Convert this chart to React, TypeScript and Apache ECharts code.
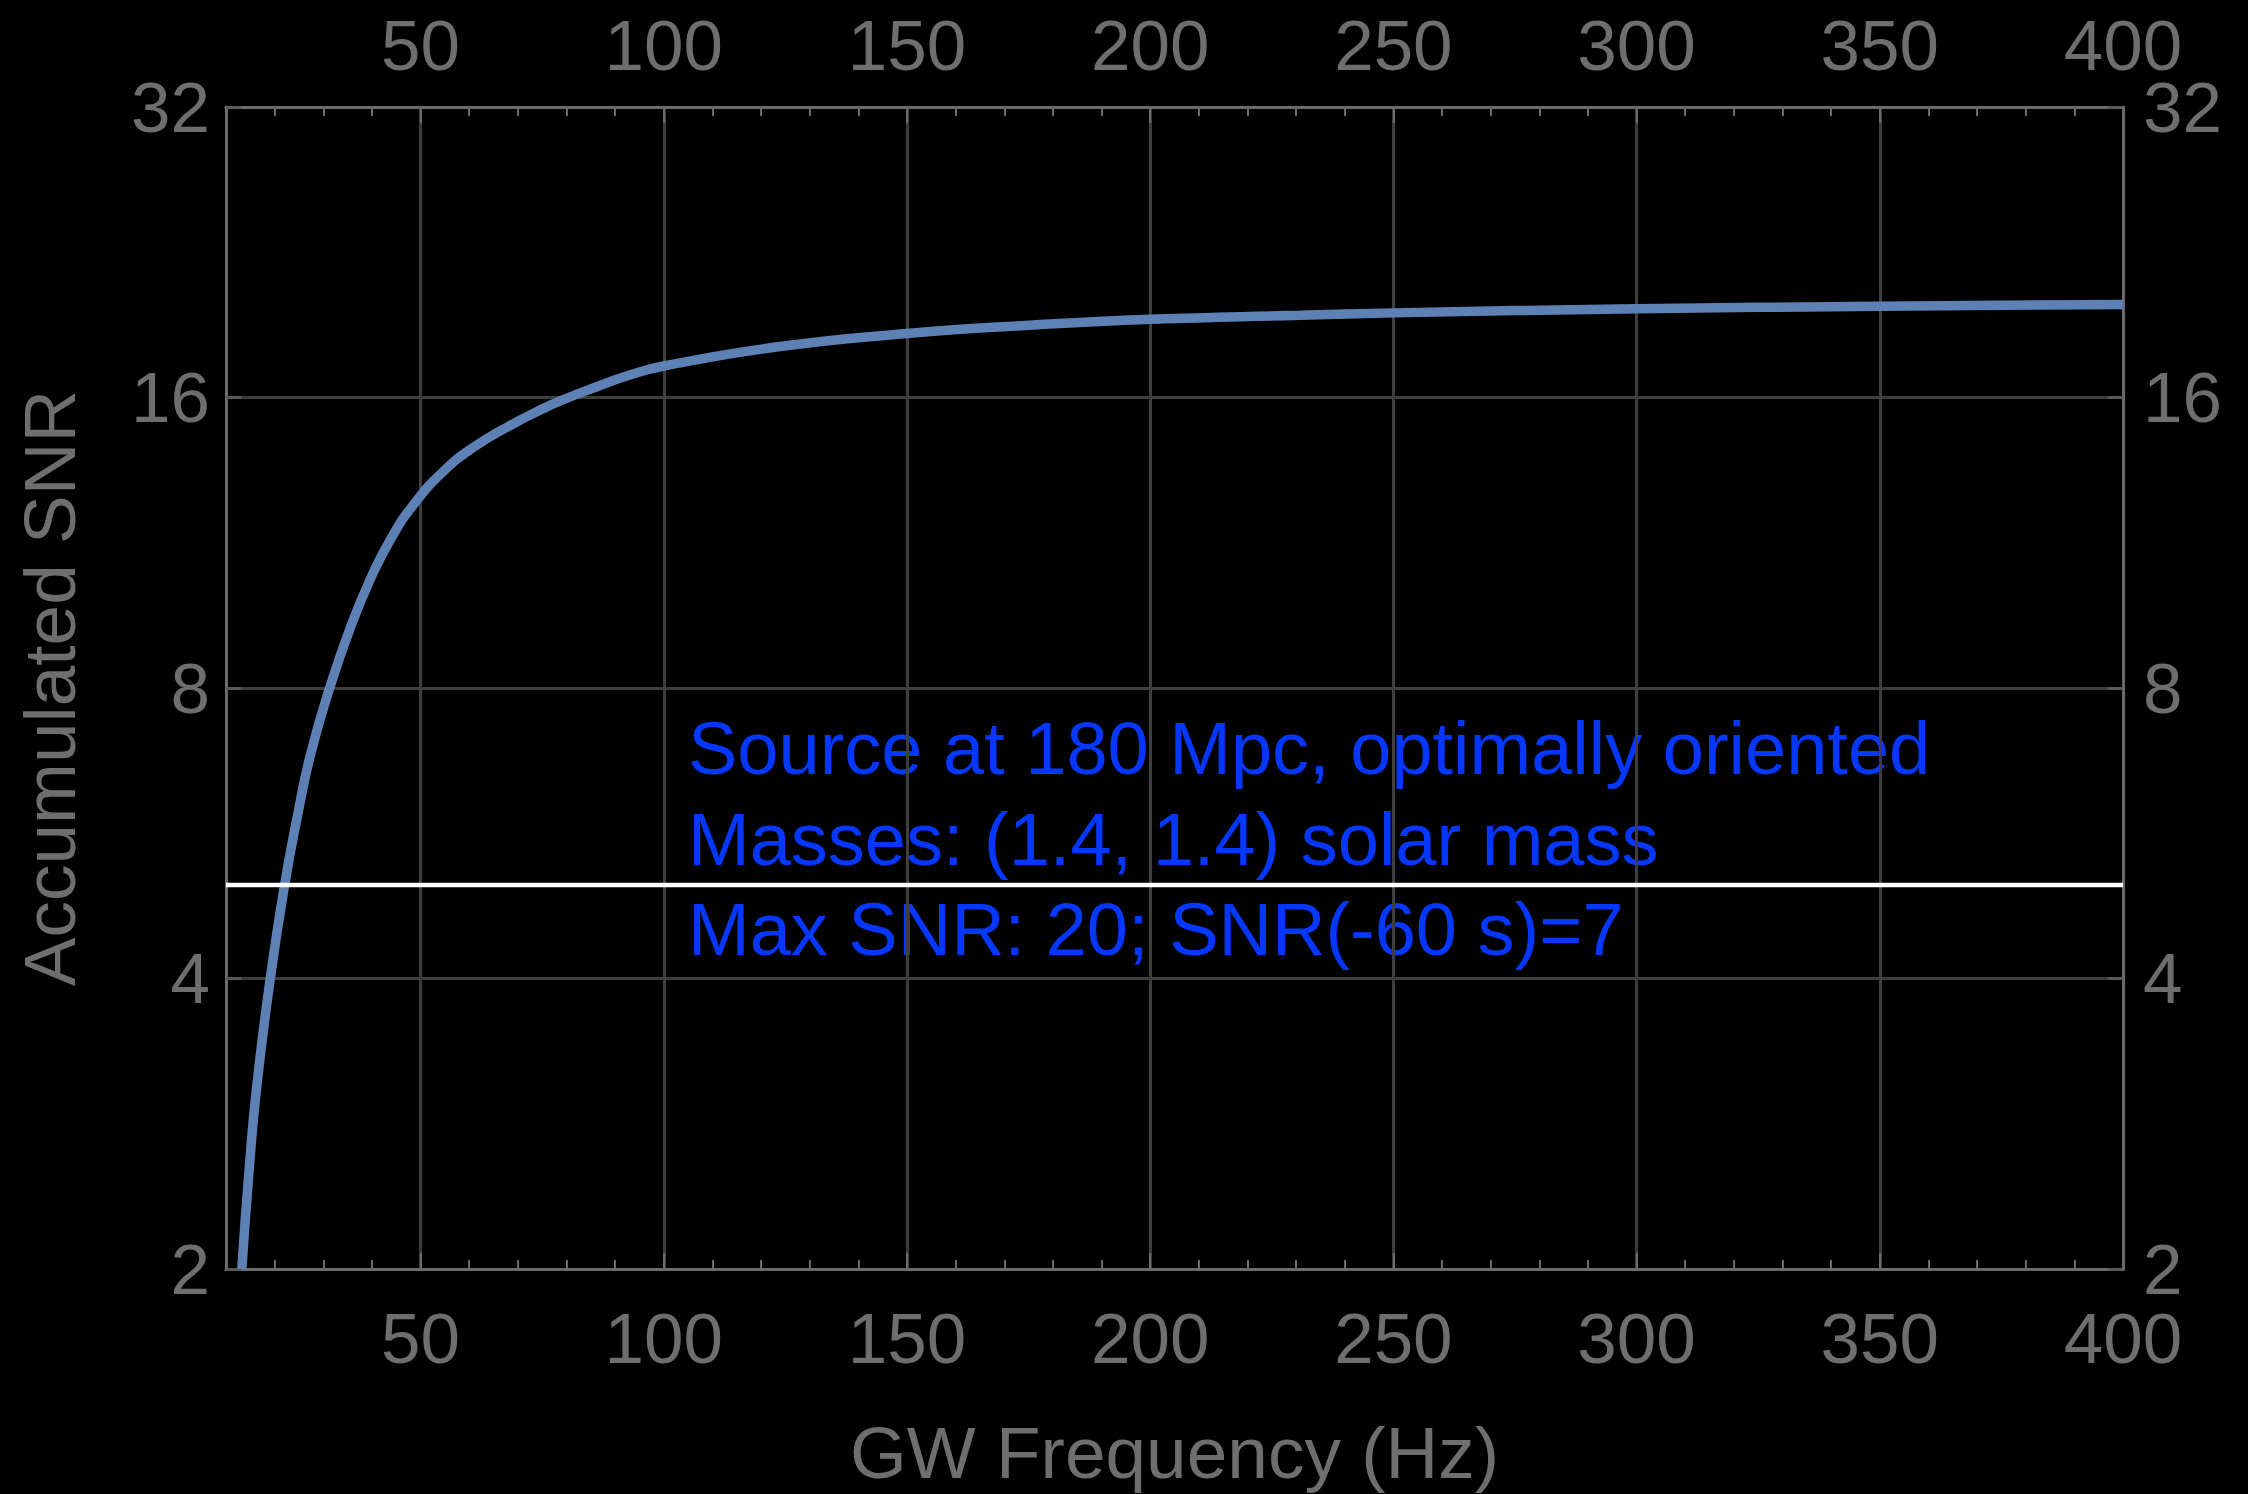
import React, { useEffect, useRef } from "react";
import * as echarts from "echarts";

// Curve: GW frequency (Hz) vs accumulated SNR
const FREQ = [13.25, 14.8, 16.35, 19.1, 22.05, 24.7, 27.3, 31.3, 35.6, 39.7, 43.8, 48.6, 54.8, 61.0, 67.9, 75.4, 79.5, 85.0, 93.3, 100, 123.5, 150, 176, 200, 230.7, 250, 300, 350, 400];
const SNR = [2.0, 2.55, 3.1, 4.0, 5.0, 5.9, 6.8, 8.0, 9.25, 10.38, 11.4, 12.4, 13.43, 14.22, 14.92, 15.6, 15.93, 16.33, 16.9, 17.25, 18.06, 18.64, 19.02, 19.28, 19.47, 19.58, 19.77, 19.89, 19.98];

// Threshold line
const THRESHOLD = 5;
const X_RANGE = [10, 400];
const Y_RANGE = [2, 32];

// Tick labels
const X_TICKS = [50, 100, 150, 200, 250, 300, 350, 400];
const Y_TICKS = [2, 4, 8, 16, 32];

const X_TITLE = "GW Frequency (Hz)";
const Y_TITLE = "Accumulated SNR";
const NOTE_LINES = [
  "Source at 180 Mpc, optimally oriented",
  "Masses: (1.4, 1.4) solar mass",
  "Max SNR: 20; SNR(-60 s)=7",
];

const FONT = "'Liberation Sans', Arial, Helvetica, sans-serif";
const AXIS_COLOR = "#6b6b6b";
const GRID_COLOR = "#3e3e3e";
const LABEL_COLOR = "#6e6e6e";

export default function App() {
  const ref = useRef<HTMLDivElement>(null);

  useEffect(() => {
    if (!ref.current) return;
    const chart = echarts.init(ref.current, null, { renderer: "svg" });

    const label = {
      color: LABEL_COLOR,
      fontSize: 71,
      fontFamily: FONT,
      lineHeight: 58,
    };

    const minorX = (position: "bottom" | "top", withName: boolean) => ({
      type: "value",
      position,
      min: X_RANGE[0],
      max: X_RANGE[1],
      interval: 10,
      axisLine: { show: true, onZero: false, lineStyle: { color: AXIS_COLOR, width: 3 } },
      axisTick: { show: true, inside: true, length: 9, lineStyle: { color: AXIS_COLOR, width: 2 } },
      axisLabel: { show: false },
      splitLine: { show: false },
      ...(withName
        ? {
            name: X_TITLE,
            nameLocation: "middle",
            nameGap: 147,
            nameTextStyle: { color: LABEL_COLOR, fontSize: 73, fontFamily: FONT, lineHeight: 73 },
          }
        : {}),
    });

    const majorX = (position: "bottom" | "top", grid: boolean) => ({
      type: "value",
      position,
      min: X_RANGE[0],
      max: X_RANGE[1],
      axisLine: { show: false, onZero: false },
      axisTick: {
        show: true,
        inside: true,
        length: 16,
        customValues: X_TICKS,
        lineStyle: { color: AXIS_COLOR, width: 2 },
      },
      axisLabel: { show: true, customValues: X_TICKS, margin: position === "bottom" ? 40 : 33, ...label },
      splitLine: { show: grid, lineStyle: { color: GRID_COLOR, width: 3 } },
    });

    const yAx = (position: "left" | "right", grid: boolean, withName: boolean) => ({
      type: "log",
      logBase: 2,
      position,
      min: Y_RANGE[0],
      max: Y_RANGE[1],
      splitNumber: 4,
      axisLine: { show: true, onZero: false, lineStyle: { color: AXIS_COLOR, width: 3 } },
      axisTick: { show: true, inside: true, length: 15, lineStyle: { color: "#5a5a5a", width: 3 } },
      axisLabel: {
        show: true,
        margin: position === "left" ? 16 : 20,
        ...label,
        formatter: (v: number) => {
          const r = Math.round(v);
          return Y_TICKS.includes(r) ? String(r) : "";
        },
      },
      splitLine: { show: grid, lineStyle: { color: GRID_COLOR, width: 3 } },
      minorTick: { show: false },
      ...(withName
        ? {
            name: Y_TITLE,
            nameLocation: "middle",
            nameGap: 140,
            nameTextStyle: { color: LABEL_COLOR, fontSize: 73, fontFamily: FONT, lineHeight: 73 },
          }
        : {}),
    });

    const curve = FREQ.map((f, i) => [f, SNR[i]]);
    const threshold = [
      [X_RANGE[0], THRESHOLD],
      [X_RANGE[1], THRESHOLD],
    ];

    chart.setOption({
      animation: false,
      backgroundColor: "#000000",
      grid: { left: 226, right: 125, top: 107, bottom: 217, containLabel: false },
      xAxis: [minorX("bottom", true), majorX("bottom", true), minorX("top", false), majorX("top", false)],
      yAxis: [yAx("left", true, true), yAx("right", false, false)],
      graphic: NOTE_LINES.map((t, i) => ({
        type: "text",
        x: 688,
        y: [748, 839, 929][i],
        z: -1,
        style: {
          text: t,
          fill: "#0537ff",
          fontSize: 74,
          fontFamily: FONT,
          textAlign: "left",
          textVerticalAlign: "middle",
          align: "left",
          verticalAlign: "middle",
        },
      })),
      series: [
        {
          type: "line",
          xAxisIndex: 0,
          yAxisIndex: 0,
          data: curve,
          smooth: 0.5,
          showSymbol: false,
          symbol: "none",
          clip: true,
          lineStyle: { color: "#5e81b5", width: 9.5 },
          z: 3,
        },
        {
          type: "line",
          xAxisIndex: 0,
          yAxisIndex: 0,
          data: threshold,
          showSymbol: false,
          symbol: "none",
          lineStyle: { color: "#ffffff", width: 4.5 },
          z: 4,
        },
      ],
    });

    return () => chart.dispose();
  }, []);

  return (
    <div
      ref={ref}
      style={{ position: "fixed", left: 0, top: 0, width: 2248, height: 1494, background: "#000" }}
    />
  );
}
